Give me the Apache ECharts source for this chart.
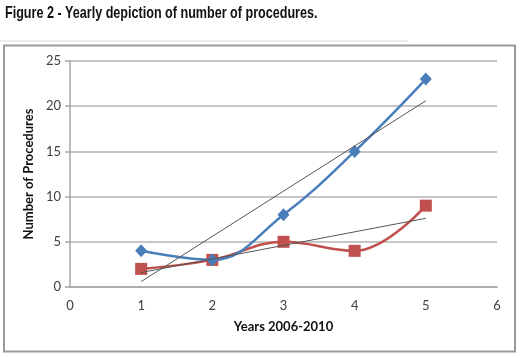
<!DOCTYPE html>
<html>
<head>
<meta charset="utf-8">
<style>html,body{margin:0;padding:0;background:#fff;}#c{width:520px;height:358px;}</style>
<script src="https://cdn.jsdelivr.net/npm/echarts@6/dist/echarts.min.js"></script>
</head>
<body>
<div id="c"></div>
<script>
var years = [1, 2, 3, 4, 5];
var seriesBlue = [4, 3, 8, 15, 23];
var seriesRed = [2, 3, 5, 4, 9];
var trendX = [1, 5];
var trendBlue = [0.6, 20.6];
var trendRed = [1.6, 7.6];
var xTicks = [0, 1, 2, 3, 4, 5, 6];
var yTicks = [0, 5, 10, 15, 20, 25];
var titleText = 'Figure 2 - Yearly depiction of number of procedures.';

function pairs(xs, ys) { return xs.map(function (x, i) { return [x, ys[i]]; }); }

var chart = echarts.init(document.getElementById('c'), null, {renderer: 'canvas'});
var labelFont = {fontFamily: 'Lato, "Open Sans", sans-serif', fontSize: 13, color: '#404040'};
chart.setOption({
  animation: false,
  graphic: [
    {type: 'text', left: 5, top: 5, scaleX: 0.74,
      style: {text: titleText, font: 'bold 17px "Liberation Sans", Arial, sans-serif', fill: '#111'}},
    {type: 'line', shape: {x1: 0, y1: 41, x2: 408, y2: 41}, style: {stroke: '#d8d8d8', lineWidth: 1}},
    {type: 'rect', shape: {x: 4, y: 45.5, width: 511, height: 306}, style: {fill: 'none', stroke: '#9a9a9a', lineWidth: 2}}
  ],
  grid: {left: 70, right: 23, top: 61, bottom: 71},
  xAxis: {
    type: 'value', min: 0, max: 6, interval: 1,
    name: 'Years 2006-2010', nameLocation: 'middle', nameGap: 33,
    nameTextStyle: {fontFamily: 'Lato, "Open Sans", sans-serif', fontSize: 13, fontWeight: 'bold', color: '#111'},
    axisLine: {show: true, lineStyle: {color: '#a6a6a6', width: 1.5}},
    axisTick: {show: false},
    splitLine: {show: false},
    axisLabel: Object.assign({margin: 12}, labelFont)
  },
  yAxis: {
    type: 'value', min: 0, max: 25, interval: 5,
    name: 'Number of Procedures', nameLocation: 'middle', nameGap: 32,
    nameTextStyle: {fontFamily: 'Lato, "Open Sans", sans-serif', fontSize: 13, fontWeight: 'bold', color: '#111'},
    axisLine: {show: true, lineStyle: {color: '#a6a6a6', width: 1.5}},
    axisTick: {show: true, length: 5, lineStyle: {color: '#a6a6a6', width: 1.5}},
    splitLine: {show: true, lineStyle: {color: '#b3b3b3', width: 1.5}},
    axisLabel: Object.assign({margin: 9}, labelFont)
  },
  series: [
    {type: 'line', data: pairs(trendX, trendBlue), symbol: 'none', lineStyle: {color: '#555', width: 1}, z: 3},
    {type: 'line', data: pairs(trendX, trendRed), symbol: 'none', lineStyle: {color: '#555', width: 1}, z: 3},
    {type: 'line', data: pairs(years, seriesRed), smooth: 0.4, symbol: 'rect', symbolSize: 12,
      lineStyle: {color: '#C0504D', width: 2.5}, itemStyle: {color: '#C0504D'}, z: 2},
    {type: 'line', data: pairs(years, seriesBlue), smooth: 0.4, symbol: 'diamond', symbolSize: [12, 13],
      lineStyle: {color: '#4A7EBB', width: 2.5}, itemStyle: {color: '#4A7EBB'}, z: 2}
  ]
});
</script>
</body>
</html>
